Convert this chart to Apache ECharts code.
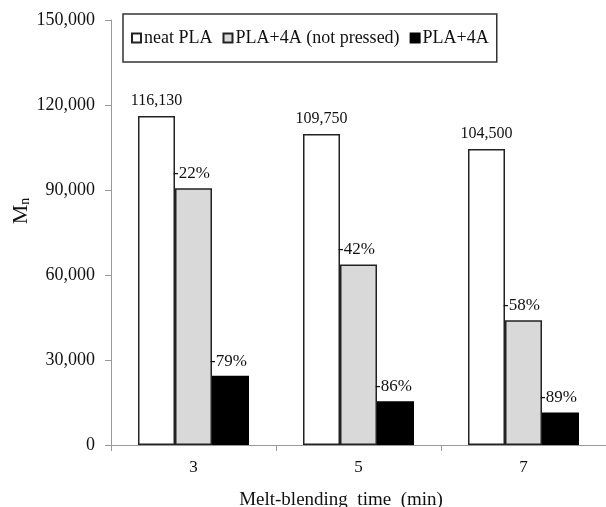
<!DOCTYPE html>
<html>
<head>
<meta charset="utf-8">
<script src="https://cdn.jsdelivr.net/npm/echarts@6/dist/echarts.min.js"></script>
<style>html,body{margin:0;padding:0;background:#fff}#c{width:606px;height:507px}</style>
</head>
<body>
<div id="c"></div>
<script>
var categories = ['3', '5', '7'];
var seriesNames = ['neat PLA', 'PLA+4A (not pressed)', 'PLA+4A'];
var neatPLA = [116130, 109750, 104500];
var notPressed = [90600, 63700, 44000];
var pressed = [24400, 15400, 11500];
var notPressedPct = ['-22%', '-42%', '-58%'];
var pressedPct = ['-79%', '-86%', '-89%'];
var yTicks = [0, 30000, 60000, 90000, 120000, 150000];

var serif = '"Liberation Serif", "Times New Roman", serif';
var chart = echarts.init(document.getElementById('c'));
function fmt(v){ return v.toString().replace(/\B(?=(\d{3})+(?!\d))/g, ','); }
function pctLabel(arr){
  return {
    show: true, position: [-2, -6], align: 'left', verticalAlign: 'bottom',
    fontFamily: serif, fontSize: 17, color: '#111',
    formatter: function(p){ return arr[p.dataIndex]; }
  };
}
chart.setOption({
  animation: false,
  backgroundColor: '#fff',
  grid: { left: 111, top: 20, width: 498, height: 425, containLabel: false },
  legend: {
    left: 123, top: 14,
    padding: [15, 8, 15, 8],
    borderColor: '#333', borderWidth: 1.5, backgroundColor: '#fff',
    itemWidth: 9, itemHeight: 9, itemGap: 10,
    icon: 'rect',
    textStyle: { fontFamily: serif, fontSize: 18, color: '#111', padding: [0, 0, 0, -2] },
    data: seriesNames
  },
  xAxis: {
    type: 'category', data: categories,
    axisLine: { lineStyle: { color: '#999', width: 1 } },
    axisTick: { show: true, length: 6, lineStyle: { color: '#999' } },
    axisLabel: { fontFamily: serif, fontSize: 17, color: '#111', margin: 14 }
  },
  yAxis: {
    type: 'value', min: yTicks[0], max: yTicks[yTicks.length - 1], interval: yTicks[1] - yTicks[0],
    splitLine: { show: false },
    axisLine: { show: true, lineStyle: { color: '#999', width: 1 } },
    axisTick: { show: true, length: 6, lineStyle: { color: '#999' } },
    axisLabel: { fontFamily: serif, fontSize: 18, color: '#111', margin: 16, formatter: fmt }
  },
  graphic: [
    {
      type: 'text', x: 21, y: 211, rotation: Math.PI / 2,
      style: {
        text: '{m|M}{n|n}', align: 'center', verticalAlign: 'middle',
        rich: {
          m: { fontFamily: serif, fontSize: 22, fill: '#111' },
          n: { fontFamily: serif, fontSize: 14, fill: '#111', verticalAlign: 'bottom', padding: [9, 0, 0, 0] }
        }
      }
    },
    {
      type: 'text', x: 341, y: 500,
      style: { text: 'Melt-blending  time  (min)', align: 'center', verticalAlign: 'middle',
        fontFamily: serif, fontSize: 19, fill: '#111' }
    }
  ],
  series: [
    {
      name: seriesNames[0], type: 'bar', data: neatPLA, barWidth: 37, barGap: '0%', barCategoryGap: '33%',
      itemStyle: { color: '#ffffff', borderColor: '#222', borderWidth: 1.5 },
      label: { show: true, position: 'top', distance: 7, fontFamily: serif, fontSize: 16, color: '#111',
        formatter: function(p){ return fmt(p.value); } }
    },
    {
      name: seriesNames[1], type: 'bar', data: notPressed, barWidth: 37, barGap: '0%',
      itemStyle: { color: '#d9d9d9', borderColor: '#222', borderWidth: 1.5 },
      label: pctLabel(notPressedPct)
    },
    {
      name: seriesNames[2], type: 'bar', data: pressed, barWidth: 37, barGap: '0%',
      itemStyle: { color: '#000000', borderColor: '#000', borderWidth: 1.5 },
      label: pctLabel(pressedPct)
    }
  ]
});
</script>
</body>
</html>
